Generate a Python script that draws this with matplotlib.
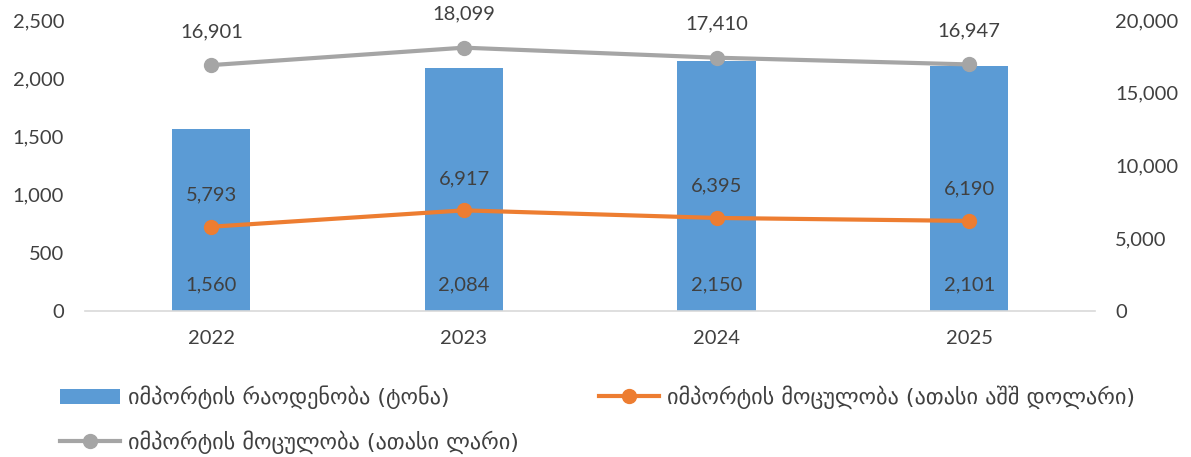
import matplotlib
matplotlib.use("Agg")
import matplotlib.pyplot as plt
from matplotlib.ticker import FuncFormatter

years = ["2022", "2023", "2024", "2025"]
tons = [1560, 2084, 2150, 2101]
usd = [5793, 6917, 6395, 6190]
gel = [16901, 18099, 17410, 16947]

label_tons = "იმპორტის რაოდენობა (ტონა)"
label_usd = "იმპორტის მოცულობა (ათასი აშშ დოლარი)"
label_gel = "იმპორტის მოცულობა (ათასი ლარი)"

plt.rcParams['font.family'] = ['Lato', 'DejaVu Sans']
TXT = "#404040"
C_BAR = "#5B9BD5"
C_USD = "#ED7D31"
C_GEL = "#A5A5A5"
FS = 14.5

fig = plt.figure(figsize=(11.91, 4.57), dpi=100)
ax = fig.add_axes([0.0714, 0.3195, 0.8484, 0.6367])
ax2 = ax.twinx()

x = list(range(len(years)))
bars = ax.bar(x, tons, width=0.31, color=C_BAR, zorder=2)
ax.set_xlim(-0.5, 3.5)
ax.set_ylim(0, 2500)
ax.set_yticks([0, 500, 1000, 1500, 2000, 2500])
fmt = FuncFormatter(lambda v, p: f"{int(v):,}")
ax.yaxis.set_major_formatter(fmt)
ax.set_xticks(x)
ax.set_xticklabels(years)

ax2.set_ylim(0, 20000)
ax2.set_yticks([0, 5000, 10000, 15000, 20000])
ax2.yaxis.set_major_formatter(fmt)

l_usd, = ax2.plot(x, usd, color=C_USD, lw=3, marker='o', ms=10, zorder=3)
l_gel, = ax2.plot(x, gel, color=C_GEL, lw=3, marker='o', ms=10, zorder=3)

for a in (ax, ax2):
    for s in ("top", "left", "right"):
        a.spines[s].set_visible(False)
    a.tick_params(length=0, labelsize=FS, colors=TXT)
ax.spines["bottom"].set_color("#D9D9D9")
ax.spines["bottom"].set_linewidth(1.2)
ax2.spines["bottom"].set_visible(False)
ax.tick_params(axis='x', pad=14)
ax.tick_params(axis='y', pad=15)
ax2.tick_params(axis='y', pad=14)

for xi, v in zip(x, tons):
    ax.annotate(f"{v:,}", (xi, 0), xytext=(0, 19), textcoords="offset points",
                ha="center", va="center", fontsize=FS, color=TXT)
for xi, v in zip(x, usd):
    ax2.annotate(f"{v:,}", (xi, v), xytext=(0, 23), textcoords="offset points",
                 ha="center", va="center", fontsize=FS, color=TXT)
for xi, v in zip(x, gel):
    ax2.annotate(f"{v:,}", (xi, v), xytext=(0, 24), textcoords="offset points",
                 ha="center", va="center", fontsize=FS, color=TXT)

fig.legend([bars, l_gel, l_usd], [label_tons, label_gel, label_usd],
           ncol=2, loc="upper left", bbox_to_anchor=(0.034, 0.2),
           frameon=False, prop={'family': ['DejaVu Sans'], 'size': 16},
           labelcolor=TXT, handlelength=2.7,
           handletextpad=0.35, columnspacing=3.6, labelspacing=0.95)

fig.savefig("out.png", dpi=100)
